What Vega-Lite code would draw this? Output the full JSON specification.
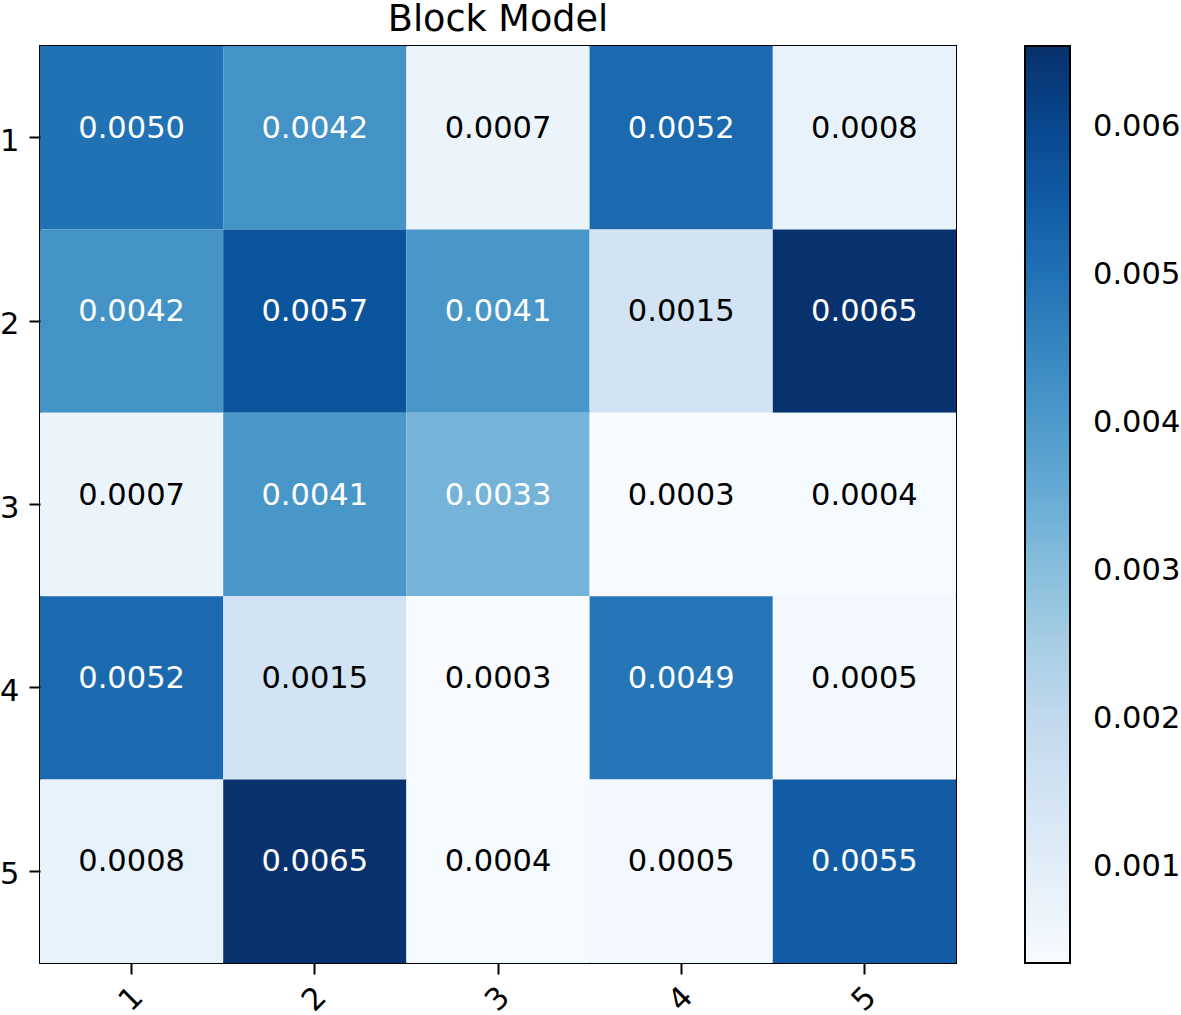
{
  "$schema": "https://vega.github.io/schema/vega-lite/v6.json",
  "autosize": "none",
  "padding": {"left": 40, "top": 46, "right": 225, "bottom": 52},
  "width": 916,
  "height": 917,
  "background": "white",
  "title": {
    "text": "Block Model",
    "font": "DejaVu Sans",
    "fontSize": 36.6,
    "fontWeight": "normal",
    "color": "black",
    "anchor": "middle",
    "frame": "group",
    "baseline": "alphabetic",
    "offset": -22
  },
  "config": {
    "view": {"stroke": "black", "strokeWidth": 2},
    "axis": {
      "labelFont": "DejaVu Sans",
      "labelFontSize": 30.5,
      "labelColor": "black",
      "tickColor": "black",
      "tickWidth": 2,
      "tickSize": 11,
      "domain": false,
      "grid": false,
      "title": null
    }
  },
  "data": {
    "values": [
      {"row": 1, "col": 1, "v": 0.0050},
      {"row": 1, "col": 2, "v": 0.0042},
      {"row": 1, "col": 3, "v": 0.0007},
      {"row": 1, "col": 4, "v": 0.0052},
      {"row": 1, "col": 5, "v": 0.0008},
      {"row": 2, "col": 1, "v": 0.0042},
      {"row": 2, "col": 2, "v": 0.0057},
      {"row": 2, "col": 3, "v": 0.0041},
      {"row": 2, "col": 4, "v": 0.0015},
      {"row": 2, "col": 5, "v": 0.0065},
      {"row": 3, "col": 1, "v": 0.0007},
      {"row": 3, "col": 2, "v": 0.0041},
      {"row": 3, "col": 3, "v": 0.0033},
      {"row": 3, "col": 4, "v": 0.0003},
      {"row": 3, "col": 5, "v": 0.0004},
      {"row": 4, "col": 1, "v": 0.0052},
      {"row": 4, "col": 2, "v": 0.0015},
      {"row": 4, "col": 3, "v": 0.0003},
      {"row": 4, "col": 4, "v": 0.0049},
      {"row": 4, "col": 5, "v": 0.0005},
      {"row": 5, "col": 1, "v": 0.0008},
      {"row": 5, "col": 2, "v": 0.0065},
      {"row": 5, "col": 3, "v": 0.0004},
      {"row": 5, "col": 4, "v": 0.0005},
      {"row": 5, "col": 5, "v": 0.0055}
    ]
  },
  "encoding": {
    "x": {
      "field": "col",
      "type": "ordinal",
      "scale": {"paddingInner": 0, "paddingOuter": 0},
      "axis": {"labelAngle": -45, "labelAlign": "center", "labelBaseline": "middle", "labelPadding": 25}
    },
    "y": {
      "field": "row",
      "type": "ordinal",
      "scale": {"paddingInner": 0, "paddingOuter": 0},
      "axis": {"labelAngle": 0, "labelPadding": 10, "labelOffset": 4}
    }
  },
  "layer": [
    {
      "mark": {"type": "rect"},
      "encoding": {
        "color": {
          "field": "v",
          "type": "quantitative",
          "scale": {
            "type": "linear",
            "interpolate": "rgb",
            "domain": [0.00035, 0.001125, 0.0019, 0.002675, 0.00345, 0.004225, 0.005, 0.005775, 0.00655],
            "range": ["#f7fbff", "#deebf7", "#c6dbef", "#9ecae1", "#6baed6", "#4292c6", "#2171b5", "#08519c", "#08306b"],
            "clamp": true
          },
          "legend": {
            "type": "gradient",
            "orient": "none",
            "legendX": 985,
            "legendY": 0,
            "direction": "vertical",
            "gradientLength": 917,
            "gradientThickness": 45,
            "gradientStrokeColor": "black",
            "gradientStrokeWidth": 2,
            "title": null,
            "values": [0.001, 0.002, 0.003, 0.004, 0.005, 0.006],
            "format": ".3f",
            "labelFont": "DejaVu Sans",
            "labelFontSize": 30.5,
            "labelColor": "black",
            "labelOffset": 23,
            "labelBaseline": "middle",
            "labelOverlap": false
          }
        }
      }
    },
    {
      "mark": {"type": "text", "font": "DejaVu Sans", "fontSize": 30.5, "baseline": "middle", "align": "center", "dy": -9},
      "encoding": {
        "text": {"field": "v", "type": "quantitative", "format": ".4f"},
        "color": {
          "condition": {"test": "datum.v > 0.0032", "value": "white"},
          "value": "black"
        }
      }
    }
  ]
}
